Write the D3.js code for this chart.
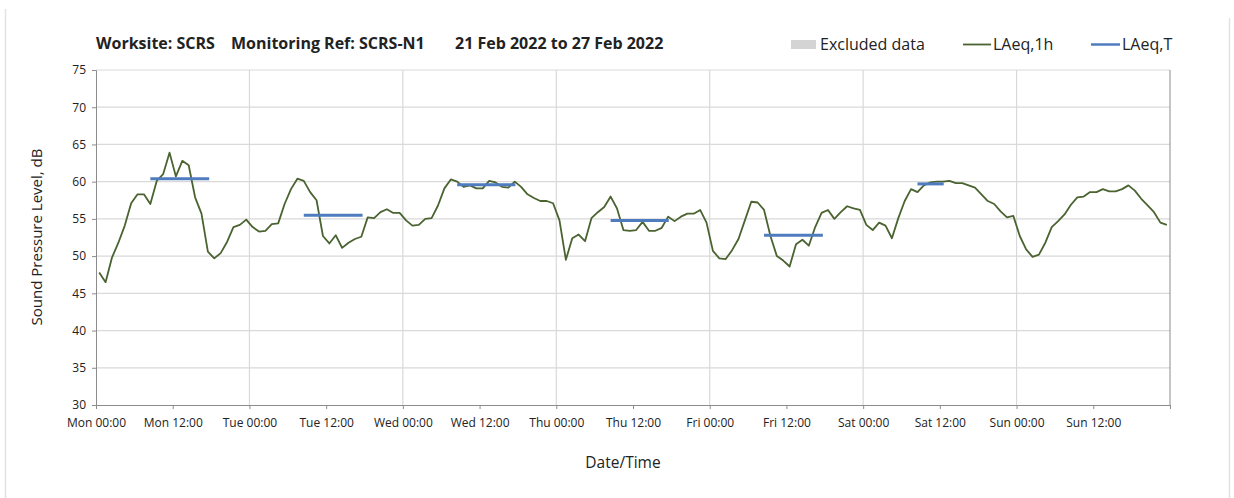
<!DOCTYPE html>
<html>
<head>
<meta charset="utf-8">
<script src="https://cdn.jsdelivr.net/npm/d3@7"></script>
<style>
  html, body { margin: 0; padding: 0; background: #ffffff; }
  svg { display: block; }
  text { font-family: "Open Sans", "DejaVu Sans", sans-serif; fill: #222; }
</style>
</head>
<body>
<svg id="chart" width="1234" height="498"></svg>
<script>
// ---- Data ----
const titleParts = ["Worksite: SCRS", "Monitoring Ref: SCRS-N1", "21 Feb 2022 to 27 Feb 2022"];
const xTickLabels = ["Mon 00:00", "Mon 12:00", "Tue 00:00", "Tue 12:00", "Wed 00:00", "Wed 12:00",
  "Thu 00:00", "Thu 12:00", "Fri 00:00", "Fri 12:00", "Sat 00:00", "Sat 12:00", "Sun 00:00", "Sun 12:00"];
const yTicks = [30, 35, 40, 45, 50, 55, 60, 65, 70, 75];
// hourly LAeq,1h values (hour mid-points, Mon 00:00 onwards)
const hourlyLevels = [
  47.8, 46.5, 49.8, 51.8, 54.1, 57.1, 58.3, 58.3, 57.0, 60.1, 61.0, 63.9,
  60.7, 62.8, 62.2, 57.9, 55.7, 50.6, 49.7, 50.4, 51.9, 53.9, 54.2, 54.9,
  53.9, 53.3, 53.4, 54.3, 54.4, 57.0, 59.0, 60.4, 60.1, 58.6, 57.5, 52.7,
  51.7, 52.8, 51.1, 51.8, 52.3, 52.6, 55.2, 55.1, 55.9, 56.3, 55.8, 55.8,
  54.8, 54.1, 54.2, 55.0, 55.1, 56.8, 59.1, 60.3, 60.0, 59.3, 59.5, 59.1,
  59.1, 60.1, 59.9, 59.3, 59.2, 60.0, 59.3, 58.3, 57.8, 57.4, 57.4, 57.1,
  54.8, 49.5, 52.4, 52.9, 52.0, 55.1, 55.9, 56.6, 58.0, 56.4, 53.5, 53.4,
  53.5, 54.6, 53.4, 53.4, 53.8, 55.3, 54.7, 55.3, 55.7, 55.7, 56.2, 54.5,
  50.7, 49.7, 49.6, 50.8, 52.3, 54.8, 57.3, 57.2, 56.2, 52.7, 50.0, 49.4,
  48.6, 51.6, 52.2, 51.4, 53.9, 55.8, 56.2, 55.0, 55.9, 56.7, 56.4, 56.2,
  54.2, 53.5, 54.5, 54.1, 52.4, 55.1, 57.4, 59.0, 58.6, 59.5, 59.9, 60.0,
  60.0, 60.1, 59.8, 59.8, 59.5, 59.2, 58.3, 57.4, 57.0, 56.0, 55.2, 55.4,
  52.7, 50.9, 49.9, 50.2, 51.8, 53.9, 54.7, 55.6, 56.9, 57.9, 58.0, 58.6,
  58.6, 59.0, 58.7, 58.7, 59.0, 59.5, 58.8, 57.7, 56.8, 55.9, 54.5, 54.2
];
// LAeq,T periods (hours from Mon 00:00) and levels
const periodStart = [8.5, 32.5, 56.5, 80.5, 104.5, 128.5];
const periodEnd = [17.7, 41.7, 65.6, 89.6, 113.7, 132.6];
const periodLevels = [60.4, 55.5, 59.6, 54.8, 52.8, 59.7];
const legendItems = ["Excluded data", "LAeq,1h", "LAeq,T"];

// ---- Layout ----
const svg = d3.select("#chart");
const m = { left: 96, right: 1170, top: 70, bottom: 405 };
const x = d3.scaleLinear().domain([0, 168]).range([m.left, m.right]);
const y = d3.scaleLinear().domain([30, 75]).range([m.bottom, m.top]);

const greenCol = "#4a6330";
const blueCol = "#4f7bbf";
const axisCol = "#8c8c8c";
const gridCol = "#d9d9d9";

// outer frame edges
svg.append("line").attr("x1", 5.5).attr("x2", 5.5).attr("y1", 9).attr("y2", 498)
  .attr("stroke", "#e2e2e2").attr("stroke-width", 1.5);
svg.append("line").attr("x1", 1229.5).attr("x2", 1229.5).attr("y1", 18).attr("y2", 498)
  .attr("stroke", "#e2e2e2").attr("stroke-width", 1.5);

// gridlines
const g = svg.append("g");
g.selectAll("line.hgrid").data(yTicks.filter(d => d > 30)).join("line")
  .attr("x1", m.left).attr("x2", m.right)
  .attr("y1", d => y(d)).attr("y2", d => y(d))
  .attr("stroke", gridCol).attr("stroke-width", 1.2);
const dayTicks = d3.range(24, 168, 24);
g.selectAll("line.vgrid").data(dayTicks).join("line")
  .attr("x1", d => x(d)).attr("x2", d => x(d))
  .attr("y1", m.top).attr("y2", m.bottom)
  .attr("stroke", gridCol).attr("stroke-width", 1.2);
// right border
svg.append("line").attr("x1", m.right).attr("x2", m.right).attr("y1", m.top).attr("y2", m.bottom)
  .attr("stroke", axisCol).attr("stroke-width", 1);

// y axis
const yAxis = d3.axisLeft(y).tickValues(yTicks).tickSize(4).tickPadding(6).tickFormat(d3.format("d"));
const ya = svg.append("g").attr("transform", `translate(${m.left},0)`).call(yAxis);
ya.select(".domain").attr("stroke", axisCol);
ya.selectAll(".tick line").attr("stroke", axisCol);
ya.selectAll(".tick text").attr("font-size", 12).attr("fill", "#333")
  .attr("font-family", "'Open Sans', sans-serif");

// x axis
const xTickVals = d3.range(0, 169, 12);
const xAxis = d3.axisBottom(x).tickValues(xTickVals).tickSize(4).tickPadding(9)
  .tickFormat((d, i) => xTickLabels[i] || "");
const xa = svg.append("g").attr("transform", `translate(0,${m.bottom})`).call(xAxis);
xa.select(".domain").attr("stroke", axisCol);
xa.selectAll(".tick line").attr("stroke", axisCol);
xa.selectAll(".tick text").attr("font-size", 12).attr("fill", "#333")
  .attr("font-family", "'Open Sans', sans-serif");

// LAeq,1h line
const line = d3.line().x((d, i) => x(i + 0.5)).y(d => y(d));
svg.append("path").datum(hourlyLevels).attr("d", line)
  .attr("fill", "none").attr("stroke", greenCol).attr("stroke-width", 1.8)
  .attr("stroke-linejoin", "round");

// LAeq,T segments
svg.selectAll("line.period").data(periodLevels).join("line")
  .attr("x1", (d, i) => x(periodStart[i])).attr("x2", (d, i) => x(periodEnd[i]))
  .attr("y1", d => y(d)).attr("y2", d => y(d))
  .attr("stroke", blueCol).attr("stroke-width", 3);

// title
const titleX = [96, 231, 455];
svg.selectAll("text.title").data(titleParts).join("text")
  .attr("x", (d, i) => titleX[i]).attr("y", 49)
  .attr("font-size", 16).attr("font-weight", 700).attr("fill", "#111")
  .text(d => d);

// legend
const lg = svg.append("g");
lg.append("rect").attr("x", 791).attr("y", 40).attr("width", 25).attr("height", 9).attr("fill", "#d4d4d4");
lg.append("text").attr("x", 820).attr("y", 50).attr("font-size", 16).text(legendItems[0]);
lg.append("line").attr("x1", 963).attr("x2", 991).attr("y1", 44.5).attr("y2", 44.5)
  .attr("stroke", greenCol).attr("stroke-width", 1.8);
lg.append("text").attr("x", 993).attr("y", 50).attr("font-size", 16).text(legendItems[1]);
lg.append("line").attr("x1", 1091).attr("x2", 1120).attr("y1", 44.5).attr("y2", 44.5)
  .attr("stroke", blueCol).attr("stroke-width", 2.5);
lg.append("text").attr("x", 1122).attr("y", 50).attr("font-size", 16).text(legendItems[2]);

// axis titles
svg.append("text").attr("transform", "translate(42,237) rotate(-90)")
  .attr("text-anchor", "middle").attr("font-size", 15).text("Sound Pressure Level, dB");
svg.append("text").attr("x", 623).attr("y", 468)
  .attr("text-anchor", "middle").attr("font-size", 15.5).text("Date/Time");
</script>
</body>
</html>
